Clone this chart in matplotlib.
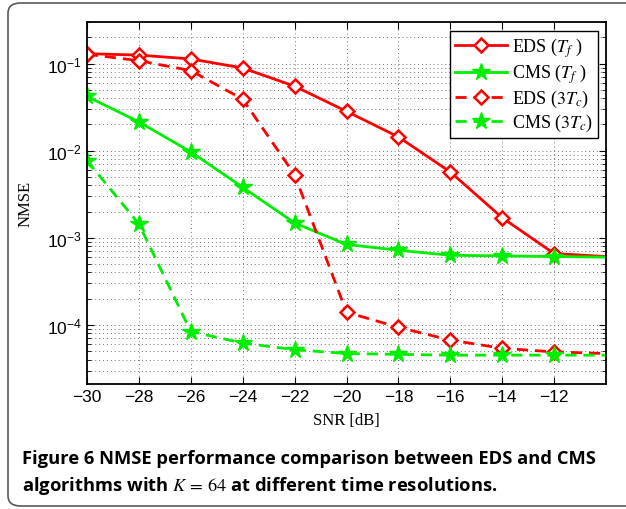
import matplotlib
matplotlib.use("Agg")
import matplotlib.pyplot as plt
from matplotlib.patches import FancyBboxPatch
from matplotlib.ticker import LogLocator, NullFormatter

# SNR points (dB)
snr = [-30, -28, -26, -24, -22, -20, -18, -16, -14, -12, -10]

# NMSE values
eds_tf = [0.13, 0.125, 0.113, 0.089, 0.055, 0.0283, 0.0144, 0.0057, 0.0017, 6.6e-4, 6.1e-4]
cms_tf = [0.042, 0.0214, 0.0097, 0.0038, 0.00148, 8.4e-4, 7.2e-4, 6.3e-4, 6.2e-4, 6.1e-4, 6.0e-4]
eds_3tc = [0.128, 0.108, 0.083, 0.039, 0.0053, 1.4e-4, 9.4e-5, 6.7e-5, 5.4e-5, 4.9e-5, 4.7e-5]
cms_3tc = [0.0077, 0.00144, 8.4e-5, 6.2e-5, 5.2e-5, 4.7e-5, 4.6e-5, 4.5e-5, 4.5e-5, 4.5e-5, 4.5e-5]

labels = [r"EDS ($T_f$ )", r"CMS ($T_f$ )", r"EDS ($3T_c$)", r"CMS ($3T_c$)"]
xticks = [-30, -28, -26, -24, -22, -20, -18, -16, -14, -12]

red = "#ff0000"
green = "#00ee00"

fig = plt.figure(figsize=(6.26, 5.10), dpi=100)
fig.patches.append(FancyBboxPatch((8 / 626, 3 / 510), 640 / 626, 503 / 510,
                                  boxstyle="round,pad=0,rounding_size=0.02",
                                  transform=fig.transFigure, fill=False,
                                  edgecolor="0.35", lw=1.2))

ax = fig.add_axes([87 / 626, 1 - 385 / 510, (606 - 87) / 626, (385 - 23) / 510])

n = len(snr)
ax.plot(snr, eds_tf, color=red, lw=2, marker="D", ms=7, mfc="white", mec=red, mew=1.8,
        markevery=range(n - 1), label=labels[0])
ax.plot(snr, cms_tf, color=green, lw=2, marker="*", ms=13, mfc=green, mec=green,
        markevery=range(n - 1), label=labels[1])
ax.plot(snr, eds_3tc, color=red, lw=2, ls="--", dashes=(4, 2.5), marker="D", ms=7, mfc="white",
        mec=red, mew=1.8, markevery=range(n - 1), label=labels[2])
ax.plot(snr, cms_3tc, color=green, lw=2, ls="--", dashes=(4, 2.5), marker="*", ms=13, mfc=green,
        mec=green, markevery=range(n - 1), label=labels[3])

ax.set_yscale("log")
ax.set_xlim(-30, -10)
ax.set_ylim(2.1e-5, 0.3)
ax.set_xticks(xticks)
ax.set_xticklabels([f"\u2212{abs(v)}" for v in xticks])
ax.yaxis.set_major_locator(LogLocator(base=10, numticks=10))
ax.yaxis.set_minor_locator(LogLocator(base=10, subs=range(2, 10), numticks=20))
ax.yaxis.set_minor_formatter(NullFormatter())

ax.tick_params(which="both", direction="in", top=True, right=True, labelsize=12.5)
ax.tick_params(which="major", length=5)
ax.tick_params(which="minor", length=3)
for t in ax.get_xticklabels() + ax.get_yticklabels():
    t.set_family("Liberation Sans")
for s in ax.spines.values():
    s.set_linewidth(1.3)

grid_kw = dict(color="0.45", lw=0.7, dashes=(1, 3))
ax.grid(True, which="major", axis="both", **grid_kw)
ax.grid(True, which="minor", axis="y", **grid_kw)

ax.set_xlabel("SNR [dB]", family="Liberation Serif", fontsize=12, labelpad=6)
ax.set_ylabel("NMSE", family="Liberation Serif", fontsize=12, labelpad=10)

leg = ax.legend(loc="upper right", bbox_to_anchor=(0.995, 0.99), fancybox=False, edgecolor="black",
                framealpha=1, prop={"family": "Liberation Serif", "size": 13},
                handlelength=2.9, borderpad=0.25, labelspacing=0.15, handletextpad=0.3,
                borderaxespad=0.3)
leg.get_frame().set_linewidth(1.0)
for t in leg.get_texts():
    t.set_math_fontfamily("stix")

# caption
cap_kw = dict(family="Open Sans", fontweight="bold", fontsize=13.2)
fig.text(22 / 626, 1 - 464 / 510, "Figure 6 NMSE performance comparison between EDS and CMS",
         **cap_kw)
c2 = fig.text(22 / 626, 1 - 491 / 510, r"algorithms with $K\,=\,64$ at different time resolutions.",
              **cap_kw)
c2.set_math_fontfamily("stix")

fig.savefig("out.png", dpi=100)
